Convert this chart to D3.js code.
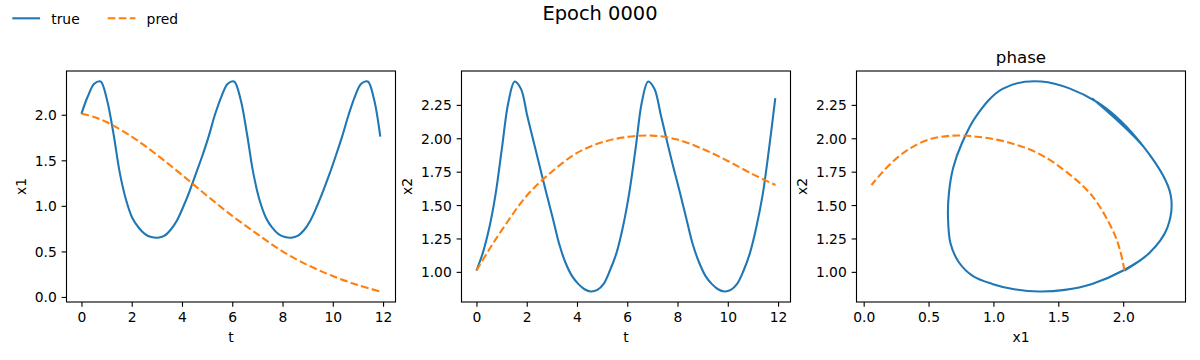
<!DOCTYPE html>
<html><head><meta charset="utf-8">
<script src="https://cdn.jsdelivr.net/npm/d3@7"></script>
<style>body{margin:0;background:#fff} svg{display:block} text{font-family:"DejaVu Sans",sans-serif}</style>
</head><body><svg id="c" width="1200" height="360"></svg>
<script>
// ---- data ----
const tTrue = [0, 0.25, 0.51, 0.76, 1.01, 1.27, 1.52, 1.77, 2.02, 2.28, 2.53, 2.78, 3.04, 3.29, 3.54, 3.80,
  4.05, 4.30, 4.55, 4.81, 5.06, 5.31, 5.57, 5.82, 6.07, 6.33, 6.58, 6.83, 7.08, 7.34, 7.59, 7.84,
  8.10, 8.35, 8.60, 8.86, 9.11, 9.36, 9.61, 9.87, 10.12, 10.37, 10.63, 10.88, 11.13, 11.39, 11.64, 11.89];
const x1True = [2.01, 2.20, 2.34, 2.365, 2.17, 1.80, 1.37, 1.07, 0.87, 0.76, 0.69, 0.657, 0.65, 0.67, 0.735, 0.84,
  0.99, 1.16, 1.35, 1.55, 1.76, 2.00, 2.20, 2.34, 2.365, 2.17, 1.80, 1.37, 1.07, 0.87, 0.76, 0.69,
  0.657, 0.65, 0.67, 0.735, 0.84, 0.99, 1.16, 1.35, 1.55, 1.76, 2.00, 2.20, 2.34, 2.365, 2.17, 1.76];
const x2True = [1.01, 1.14, 1.33, 1.58, 1.92, 2.27, 2.425, 2.37, 2.17, 1.97, 1.78, 1.59, 1.40, 1.21, 1.07, 0.97,
  0.91, 0.87, 0.853, 0.865, 0.91, 1.01, 1.14, 1.33, 1.58, 1.92, 2.27, 2.425, 2.37, 2.17, 1.97, 1.78,
  1.59, 1.40, 1.21, 1.07, 0.97, 0.91, 0.87, 0.853, 0.865, 0.91, 1.01, 1.14, 1.33, 1.58, 1.92, 2.30];
const tPred  = [0, 0.5, 1, 2, 3, 4, 5, 6, 7, 8, 9, 10, 11, 11.9];
const x1Pred = [2.01, 1.975, 1.92, 1.76, 1.56, 1.34, 1.11, 0.89, 0.69, 0.50, 0.35, 0.23, 0.13, 0.06];
const x2Pred = [1.01, 1.165, 1.31, 1.57, 1.75, 1.89, 1.97, 2.01, 2.02, 1.99, 1.92, 1.83, 1.73, 1.65];

const tTicks = [0, 2, 4, 6, 8, 10, 12];
const x1Ticks = [0, 0.5, 1, 1.5, 2];
const x2Ticks = [1, 1.25, 1.5, 1.75, 2, 2.25];
const seriesNames = ["true", "pred"];
const seriesColors = ["#1f77b4", "#ff7f0e"];
const figTitle = "Epoch 0000";

// ---- layout ----
const svg = d3.select("#c");
const PT = 100/72;
const axTop = 71, axBottom = 302, W = 329;
const lefts = [66.5, 461.5, 856.5];
const fs = 10*PT;

function padded(arrs) {
  const all = [].concat(...arrs);
  const [lo, hi] = d3.extent(all); const r = hi - lo;
  return [lo - 0.05*r, hi + 0.05*r];
}

const panels = [
  {xs:[tTrue,tPred], ys:[x1True,x1Pred], xt:tTicks, yt:x1Ticks, xf:d3.format("d"), yf:d3.format(".1f"), xl:"t", yl:"x1", title:null},
  {xs:[tTrue,tPred], ys:[x2True,x2Pred], xt:tTicks, yt:x2Ticks, xf:d3.format("d"), yf:d3.format(".2f"), xl:"t", yl:"x2", title:null},
  {xs:[x1True,x1Pred], ys:[x2True,x2Pred], xt:x1Ticks, yt:x2Ticks, xf:d3.format(".1f"), yf:d3.format(".2f"), xl:"x1", yl:"x2", title:"phase"}
];

panels.forEach((p, i) => {
  const L = lefts[i];
  const x = d3.scaleLinear().domain(padded(p.xs)).range([L, L + W]);
  const y = d3.scaleLinear().domain(padded(p.ys)).range([axBottom, axTop]);
  const g = svg.append("g");

  [0, 1].forEach(k => {
    const xv = p.xs[k], yv = p.ys[k];
    const line = d3.line().x((d, j) => x(xv[j])).y((d, j) => y(yv[j])).curve(d3.curveCatmullRom.alpha(0.5));
    g.append("path").datum(xv).attr("d", line).attr("fill", "none")
      .attr("stroke", seriesColors[k]).attr("stroke-width", 1.5*PT)
      .attr("stroke-dasharray", k === 1 ? `${3.7*1.5*PT},${1.6*1.5*PT}` : null);
  });

  const ax = g.append("g").attr("transform", `translate(0,${axBottom})`)
    .call(d3.axisBottom(x).tickValues(p.xt).tickFormat(p.xf).tickSize(3.5*PT).tickPadding(3.5*PT));
  const ay = g.append("g").attr("transform", `translate(${L},0)`)
    .call(d3.axisLeft(y).tickValues(p.yt).tickFormat(p.yf).tickSize(3.5*PT).tickPadding(3.5*PT));
  [ax, ay].forEach(a => {
    a.select(".domain").remove();
    a.attr("font-size", fs).attr("font-family", "DejaVu Sans");
    a.selectAll("line").attr("stroke", "#000").attr("stroke-width", 0.8*PT);
    a.selectAll("text").attr("fill", "#000");
  });
  ay.selectAll("text").attr("dy", "0.36em");

  g.append("rect").attr("x", L).attr("y", axTop).attr("width", W).attr("height", axBottom - axTop)
    .attr("fill", "none").attr("stroke", "#000").attr("stroke-width", 0.8*PT);

  g.append("text").attr("x", L + W/2).attr("y", 341.7).attr("text-anchor", "middle")
    .attr("font-size", fs).text(p.xl);
  const bb = ay.node().getBBox();
  const lx = L + bb.x - 4*PT - 0.236*fs;
  g.append("text").attr("transform", `translate(${lx},${(axTop+axBottom)/2}) rotate(-90)`)
    .attr("text-anchor", "middle").attr("font-size", fs).text(p.yl);
  if (p.title) {
    g.append("text").attr("x", L + W/2).attr("y", axTop - 6*PT).attr("text-anchor", "middle")
      .attr("font-size", 12*PT).text(p.title);
  }
});

svg.append("text").attr("x", 600).attr("y", 20).attr("text-anchor", "middle")
  .attr("font-size", 14*PT).text(figTitle);

const legX = [12.3, 107.7];
seriesNames.forEach((n, k) => {
  svg.append("line").attr("x1", legX[k]).attr("x2", legX[k] + 2*fs).attr("y1", 18.3).attr("y2", 18.3)
    .attr("stroke", seriesColors[k]).attr("stroke-width", 1.5*PT)
    .attr("stroke-dasharray", k === 1 ? `${3.7*1.5*PT},${1.6*1.5*PT}` : null);
  svg.append("text").attr("x", legX[k] + 2*fs + 0.8*fs).attr("y", 23.5).attr("font-size", fs).text(n);
});
</script></body></html>
